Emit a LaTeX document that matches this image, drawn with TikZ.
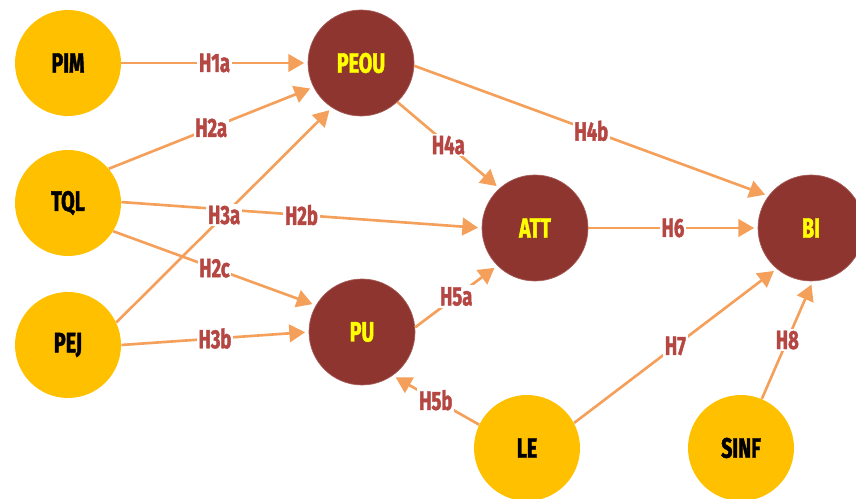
\documentclass[tikz,border=0pt]{standalone}
\usepackage{fontspec}
\usetikzlibrary{arrows.meta}
\newfontfamily\hypfont[FakeStretch=0.7, BoldFeatures={FakeBold=1.5}]{Fira Sans}

\definecolor{exoyellow}{RGB}{255,192,0}
\definecolor{endored}{RGB}{142,53,47}
\definecolor{hyporange}{RGB}{245,160,90}
\definecolor{hypred}{RGB}{181,70,66}
\definecolor{nameyellow}{RGB}{255,255,0}

\tikzset{
  exo/.style={circle, fill=exoyellow, minimum size=2.12cm, inner sep=0pt,
    font=\hypfont\bfseries\fontsize{16}{18}\selectfont, text=black},
  endo/.style={circle, fill=endored, draw=endored!80!white, line width=0.4pt,
    minimum size=2.12cm, inner sep=0pt,
    font=\hypfont\bfseries\fontsize{16}{18}\selectfont, text=nameyellow},
  hyp/.style={draw=hyporange, line width=1.5pt,
    -{Triangle[length=9pt,width=10pt]}, shorten >=2pt},
  hlabel/.style={fill=white, inner sep=1pt, text=hypred,
    font=\hypfont\bfseries\fontsize{15}{16}\selectfont}
}

\begin{document}
\begin{tikzpicture}[x=0.02cm, y=-0.02cm]
  \useasboundingbox (0,0) rectangle (856,499);
  \clip (0,0) rectangle (856,499);

  % Constructs
  \node[exo] (PIM) at (68,63) {PIM};
  \node[exo] (TQL) at (68,203) {TQL};
  \node[exo] (PEJ) at (68,345) {PEJ};
  \node[endo] (PEOU) at (361,63) {PEOU};
  \node[endo] (PU) at (362,332) {PU};
  \node[endo] (ATT) at (535,228) {ATT};
  \node[endo] (BI) at (811,228) {BI};
  \node[exo] (LE) at (527,448) {LE};
  \node[exo] (SINF) at (741,448) {SINF};

  % Hypotheses
  \draw[hyp] (PIM) -- node[hlabel] {H1a} (PEOU);
  \draw[hyp] (TQL.40) -- node[hlabel] {H2a} (PEOU.207);
  \draw[hyp] (TQL.1) -- node[hlabel] {H2b} (ATT.180);
  \draw[hyp] (PEJ.25) -- node[hlabel] {H3a} (PEOU.237);
  \draw[hyp] (TQL.-32) -- node[hlabel] {H2c} (PU.150);
  \draw[hyp] (PEJ.0) -- node[hlabel] {H3b} (PU.180);
  \draw[hyp] (PEOU.-47) -- node[hlabel] {H4a} (ATT.132);
  \draw[hyp] (PEOU.-3) -- node[hlabel] {H4b} (BI.143);
  \draw[hyp] (ATT) -- node[hlabel] {H6} (BI);
  \draw[hyp] (PU.5) -- node[hlabel] {H5a} (ATT.225);
  \draw[hyp] (LE.154) -- node[hlabel] {H5b} (PU.-55);
  \draw[hyp] (LE.28) -- node[hlabel] {H7} (BI.230);
  \draw[hyp] (SINF.67) -- node[hlabel] {H8} (BI.272);
\end{tikzpicture}
\end{document}
